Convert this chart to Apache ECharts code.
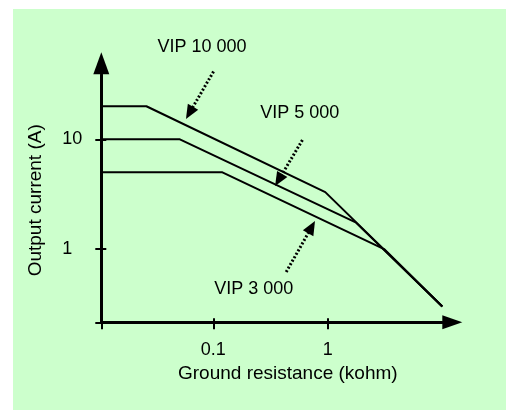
<!DOCTYPE html>
<html>
<head>
<meta charset="utf-8">
<title>VIP output current vs ground resistance</title>
<script src="https://cdn.jsdelivr.net/npm/echarts@6/dist/echarts.min.js"></script>
<style>
  html, body { margin: 0; padding: 0; background: #fff; }
  #chart { width: 506px; height: 410px; }
</style>
</head>
<body>
<div id="chart"></div>
<script>
// [ground resistance (kohm), output current (A)]
const vip10000 = [[0.0105, 20], [0.026, 20], [0.95, 3.3], [10, 0.3]]
const vip5000 = [[0.0105, 10], [0.051, 10], [1.75, 1.75], [10, 0.3]]
const vip3000 = [[0.0105, 5], [0.12, 5], [3.1, 1], [10, 0.3]]
const seriesNames = ['VIP 10 000', 'VIP 5 000', 'VIP 3 000']

const xTicks = [0.1, 1]
const yTicks = [1, 10]
const xRange = [0.0105, 10]
const yRange = [0.215, 39.1]

// callouts, same units as the data
const labelPos = [[0.0796, 70], [0.569, 17.4], [0.2255, 0.432]]
const arrowTail = [[0.1004, 41.5], [0.6, 9.86], [0.433, 0.617]]
const arrowHead = [[0.0619, 17.4], [0.372, 4.26], [0.721, 1.585]]

const L = v => Math.log10(v)
const toLog = p => [L(p[0]), L(p[1])]
const fmt = v => String(+Math.pow(10, v).toPrecision(3))

const font = 'Liberation Sans, Arial, sans-serif'
const ink = '#000'
const textStyle = { color: ink, fontSize: 18, fontFamily: font }
const nameStyle = { color: ink, fontSize: 19, fontFamily: font }

const plot = { left: 101.3, right: 63.7, top: 74.3, bottom: 87.7 }
const height = 410

const chart = echarts.init(document.getElementById('chart'))

// the callouts go above the y arrow, so they live in a bigger hidden grid
// that shares the same scale as the plot
const pxPerDecade = (height - plot.top - plot.bottom) / (L(yRange[1]) - L(yRange[0]))
const calloutYMax = L(yRange[0]) + (height - plot.bottom) / pxPerDecade

// ticks cross the axis, so each axis has a twin that only draws the inner half
function xAxisPair() {
  const base = { type: 'value', position: 'bottom', min: L(xRange[0]), max: L(xRange[1]), splitLine: { show: false } }
  return [Object.assign({}, base, {
    name: 'Ground resistance (kohm)',
    nameLocation: 'middle',
    nameGap: 40,
    nameTextStyle: Object.assign({ padding: [0, 0, 0, 32] }, nameStyle),
    axisLine: {
      onZero: false,
      symbol: ['none', 'triangle'],
      symbolSize: [14, 20],
      symbolOffset: [0, 10],
      lineStyle: { color: ink, width: 3 }
    },
    axisTick: { customValues: [L(xRange[0])].concat(xTicks.map(L)), length: 7, lineStyle: { color: ink, width: 2 } },
    axisLabel: Object.assign({ customValues: xTicks.map(L), formatter: fmt, margin: 19 }, textStyle)
  }), Object.assign({}, base, {
    axisLine: { show: false, onZero: false },
    axisTick: { customValues: xTicks.map(L), inside: true, length: 4, lineStyle: { color: ink, width: 2 } },
    axisLabel: { show: false }
  })]
}

function yAxisPair() {
  const base = { type: 'value', position: 'left', min: L(yRange[0]), max: L(yRange[1]), splitLine: { show: false } }
  return [Object.assign({}, base, {
    name: 'Output current (A)',
    nameLocation: 'middle',
    nameRotate: 90,
    nameGap: 56,
    nameTextStyle: Object.assign({ padding: [0, 4, 0, 0] }, nameStyle),
    axisLine: {
      onZero: false,
      symbol: ['none', 'triangle'],
      symbolSize: [16, 22],
      symbolOffset: [0, 11],
      lineStyle: { color: ink, width: 3 }
    },
    axisTick: { customValues: [L(yRange[0])].concat(yTicks.map(L)), length: 6, lineStyle: { color: ink, width: 2 } },
    axisLabel: Object.assign({ customValues: yTicks.map(L), formatter: fmt, margin: 39, align: 'left' }, textStyle)
  }), Object.assign({}, base, {
    axisLine: { show: false, onZero: false },
    axisTick: { customValues: yTicks.map(L), inside: true, length: 5, lineStyle: { color: ink, width: 2 } },
    axisLabel: { show: false }
  })]
}

const hiddenAxis = { show: false, type: 'value', gridIndex: 1 }
const curves = [vip10000, vip5000, vip3000]

const series = curves.map((pts, i) => ({
  name: seriesNames[i],
  type: 'line',
  data: pts.map(toLog),
  symbol: 'none',
  clip: false,
  silent: true,
  color: ink,
  lineStyle: { color: ink, width: 2 }
}))

series.push({
  name: 'callouts',
  type: 'line',
  xAxisIndex: 2,
  yAxisIndex: 2,
  data: [],
  silent: true,
  markLine: {
    silent: true,
    symbol: ['none', 'triangle'],
    symbolSize: [12, 14],
    label: { show: false },
    itemStyle: { color: ink },
    lineStyle: { type: [2, 2], width: 3, color: ink },
    data: arrowTail.map((t, i) => [{ coord: toLog(t) }, { coord: toLog(arrowHead[i]) }])
  },
  markPoint: {
    silent: true,
    symbol: 'circle',
    symbolSize: 1,
    itemStyle: { color: 'rgba(0,0,0,0)' },
    label: Object.assign({ show: true, position: 'inside', formatter: p => p.name }, textStyle),
    data: labelPos.map((p, i) => ({ name: seriesNames[i], coord: toLog(p) }))
  }
})

chart.setOption({
  animation: false,
  graphic: [{
    type: 'rect',
    left: 13,
    top: 9,
    z: -10,
    silent: true,
    shape: { width: 493, height: 401 },
    style: { fill: '#ccffcc' }
  }],
  grid: [
    Object.assign({ outerBoundsMode: 'none' }, plot),
    { left: plot.left, right: plot.right, top: 0, bottom: plot.bottom, outerBoundsMode: 'none' }
  ],
  xAxis: xAxisPair().concat([Object.assign({ min: L(xRange[0]), max: L(xRange[1]) }, hiddenAxis)]),
  yAxis: yAxisPair().concat([Object.assign({ min: L(yRange[0]), max: calloutYMax }, hiddenAxis)]),
  series
})
</script>
</body>
</html>
